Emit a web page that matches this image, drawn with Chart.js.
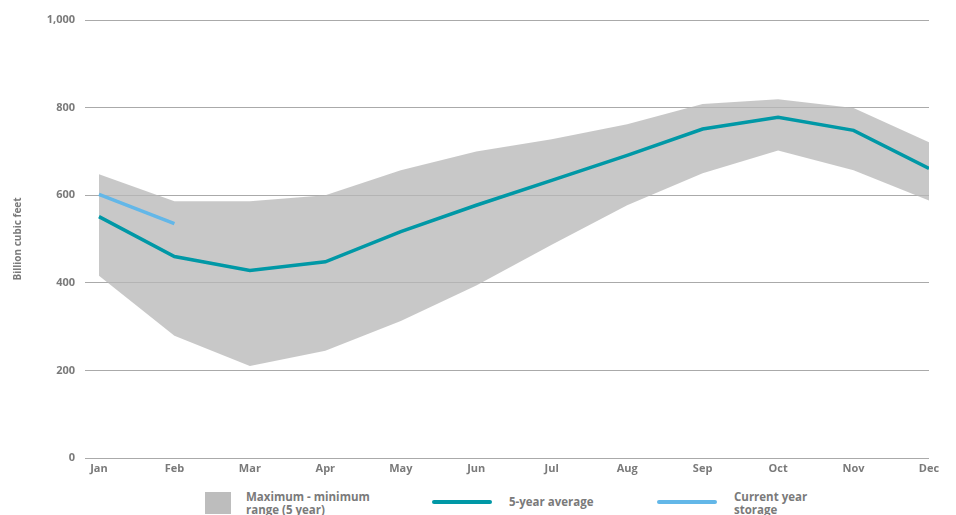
<!DOCTYPE html>
<html>
<head>
<meta charset="utf-8">
<script src="https://cdn.jsdelivr.net/npm/chart.js@4.4.1/dist/chart.umd.min.js"></script>
<style>
  html, body { margin: 0; padding: 0; background: #fff; }
  body { width: 956px; height: 515px; overflow: hidden; position: relative; font-family: "Open Sans", sans-serif; }
  #wrap { position: absolute; left: 0; top: 0; width: 956px; height: 482px; }
  .legend { position: absolute; top: 489px; left: 0; width: 956px; height: 26px; color: #7a7a7a; font-weight: 700; font-size: 11.5px; line-height: 13px; }
  .item { position: absolute; top: 0; display: flex; align-items: center; }
  .swatch-box { width: 26px; height: 22px; background: #bdbdbd; margin-top: 3px; }
  .swatch-line { width: 60px; height: 4px; border-radius: 2px; }
  .txt { position: absolute; top: 1px; white-space: nowrap; }
</style>
</head>
<body>
<div id="wrap"><canvas id="c"></canvas></div>
<div class="legend">
  <div class="item" style="left:205px"><div class="swatch-box"></div></div>
  <div class="txt" style="left:246px">Maximum - minimum<br>range (5 year)</div>
  <div class="item" style="left:432px;top:11px"><div class="swatch-line" style="background:#0098a6"></div></div>
  <div class="txt" style="left:509px;top:6px">5-year average</div>
  <div class="item" style="left:657px;top:11px"><div class="swatch-line" style="background:#63b7e8"></div></div>
  <div class="txt" style="left:734px">Current year<br>storage</div>
</div>
<script>
const months = ['Jan', 'Feb', 'Mar', 'Apr', 'May', 'Jun', 'Jul', 'Aug', 'Sep', 'Oct', 'Nov', 'Dec']
const maxRange = [648, 586, 586, 600, 657, 700, 728, 762, 808, 819, 799, 721]
const minRange = [416, 279, 210, 245, 313, 394, 487, 577, 650, 702, 657, 588]
const fiveYearAvg = [551, 460, 428, 448, 517, 577, 634, 691, 751, 778, 748, 661]
const currentYear = [602, 535]
const yTicks = [0, 200, 400, 600, 800, 1000]

const tickFont = { family: 'Open Sans', weight: 'bold', size: 11 }

// month index as x, so the plot can start a little before Jan
const pts = arr => arr.map((v, i) => ({ x: i, y: v }))

new Chart(document.getElementById('c'), {
  type: 'line',
  data: {
    datasets: [
      {
        label: 'Current year storage',
        data: pts(currentYear),
        borderColor: '#63b7e8',
        borderWidth: 3.5,
        pointRadius: 0,
        tension: 0,
        fill: false,
        order: 0
      },
      {
        label: '5-year average',
        data: pts(fiveYearAvg),
        borderColor: '#0098a6',
        borderWidth: 3.5,
        pointRadius: 0,
        tension: 0,
        fill: false,
        order: 1
      },
      {
        label: 'Maximum',
        data: pts(maxRange),
        borderWidth: 0,
        borderColor: 'rgba(0,0,0,0)',
        backgroundColor: 'rgba(183,184,184,0.77)',
        pointRadius: 0,
        tension: 0,
        fill: '+1',
        order: 2
      },
      {
        label: 'Minimum',
        data: pts(minRange),
        borderWidth: 0,
        borderColor: 'rgba(0,0,0,0)',
        pointRadius: 0,
        tension: 0,
        fill: false,
        order: 3
      }
    ]
  },
  options: {
    responsive: true,
    maintainAspectRatio: false,
    animation: false,
    layout: { padding: { top: 20, right: 27, left: 12, bottom: 0 } },
    plugins: { legend: { display: false }, tooltip: { enabled: false } },
    scales: {
      x: {
        type: 'linear',
        min: -0.185,
        max: 11,
        afterBuildTicks: s => { s.ticks = months.map((m, i) => ({ value: i })) },
        grid: { display: false, drawTicks: false },
        border: { display: false },
        ticks: {
          color: '#7a7a7a',
          font: tickFont,
          padding: 4,
          maxRotation: 0,
          autoSkip: false,
          callback: v => months[v]
        },
        afterFit: s => { s.height = 24 }
      },
      y: {
        min: 0,
        max: 1000,
        afterBuildTicks: s => { s.ticks = yTicks.map(v => ({ value: v })) },
        grid: { color: '#aaaaaa', lineWidth: 1, drawTicks: false },
        border: { display: false },
        ticks: {
          color: '#7a7a7a',
          font: tickFont,
          padding: 10,
          callback: v => v.toLocaleString('en-US')
        },
        title: {
          display: true,
          text: 'Billion cubic feet',
          color: '#7a7a7a',
          font: { family: 'Open Sans', weight: 'bold', size: 10 },
          padding: { top: 0, bottom: 0 }
        },
        afterFit: s => { s.width = 73 }
      }
    }
  }
})
</script>
</body>
</html>
